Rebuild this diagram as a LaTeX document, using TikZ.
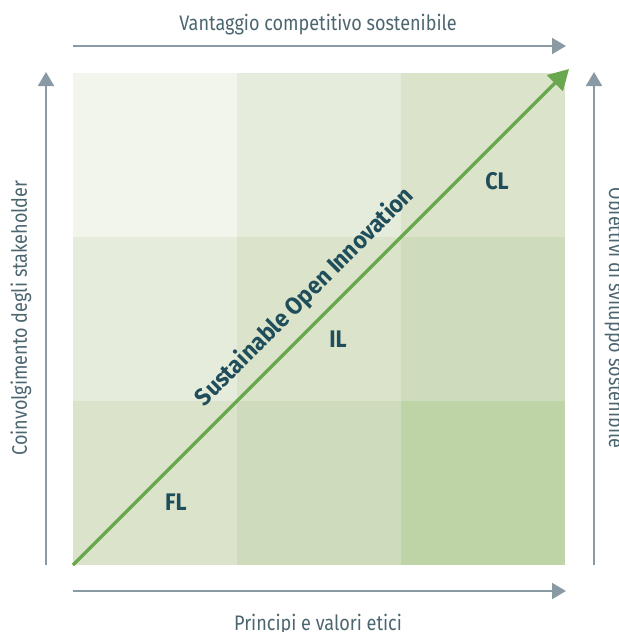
\documentclass[tikz,border=0pt]{standalone}
\usepackage{fontspec}
\setmainfont{Fira Sans}
\usetikzlibrary{arrows.meta}

\definecolor{axisgrey}{HTML}{8A9AA5}
\definecolor{axistext}{HTML}{4C6670}
\definecolor{darkteal}{HTML}{1F4E5A}
\definecolor{sogreen}{HTML}{6AA84F}
\definecolor{cellA}{HTML}{F2F5EC}
\definecolor{cellB}{HTML}{E6ECDC}
\definecolor{cellC}{HTML}{DBE4CB}
\definecolor{cellD}{HTML}{CFDCBB}
\definecolor{cellE}{HTML}{BED4A6}

\tikzset{
  axis/.style={draw=axisgrey, line width=1pt, -{Triangle[length=7pt,width=8pt]}},
  axislabel/.style={text=axistext, font=\fontsize{10.5}{12}\selectfont, inner sep=0pt},
  level/.style={text=darkteal, font=\fontsize{12}{14}\selectfont\bfseries, inner sep=0pt}
}

\begin{document}
\begin{tikzpicture}[x=0.5pt,y=0.5pt]
\useasboundingbox (0,0) rectangle (619,-632);

% grid cells
\fill[cellA] (73,-73) rectangle (237,-237);
\fill[cellB] (237,-73) rectangle (401,-237);
\fill[cellC] (401,-73) rectangle (565,-237);

\fill[cellB] (73,-237) rectangle (237,-401);
\fill[cellC] (237,-237) rectangle (401,-401);
\fill[cellD] (401,-237) rectangle (565,-401);

\fill[cellC] (73,-401) rectangle (237,-565);
\fill[cellD] (237,-401) rectangle (401,-565);
\fill[cellE] (401,-401) rectangle (565,-565);

% axes
\coordinate (topL) at (73,-46);
\coordinate (topR) at (566,-46);
\coordinate (botL) at (73,-591);
\coordinate (botR) at (566,-591);
\coordinate (leftB) at (46,-565);
\coordinate (leftT) at (46,-72);
\coordinate (rightB) at (594,-565);
\coordinate (rightT) at (594,-72);

\draw[axis] (topL) -- (topR);
\draw[axis] (botL) -- (botR);
\draw[axis] (leftB) -- (leftT);
\draw[axis] (rightB) -- (rightT);

\node[axislabel, xscale=0.86] (vantaggio) at (318,-25) {Vantaggio competitivo sostenibile};
\node[axislabel, xscale=0.86] (principi) at (318,-625) {Principi e valori etici};
\node[axislabel, rotate=90, xscale=0.86] (coinv) at (21,-318) {Coinvolgimento degli stakeholder};
\node[axislabel, rotate=-90, xscale=0.86] (obiettivi) at (615,-318) {Obiettivi di sviluppo sostenibile};

% diagonal
\coordinate (origin) at (73,-565);
\coordinate (corner) at (569,-69);
\draw[sogreen, line width=1.6pt, -{Triangle[length=10pt,width=11pt]}] (origin) -- (corner);

\node[level, rotate=45, xscale=0.94] (soi) at (305,-297) {Sustainable Open Innovation};

\node[level, xscale=0.9] (fl) at (176,-502) {FL};
\node[level, xscale=0.9] (il) at (338,-339) {IL};
\node[level, xscale=0.9] (cl) at (497,-181) {CL};

\end{tikzpicture}
\end{document}
